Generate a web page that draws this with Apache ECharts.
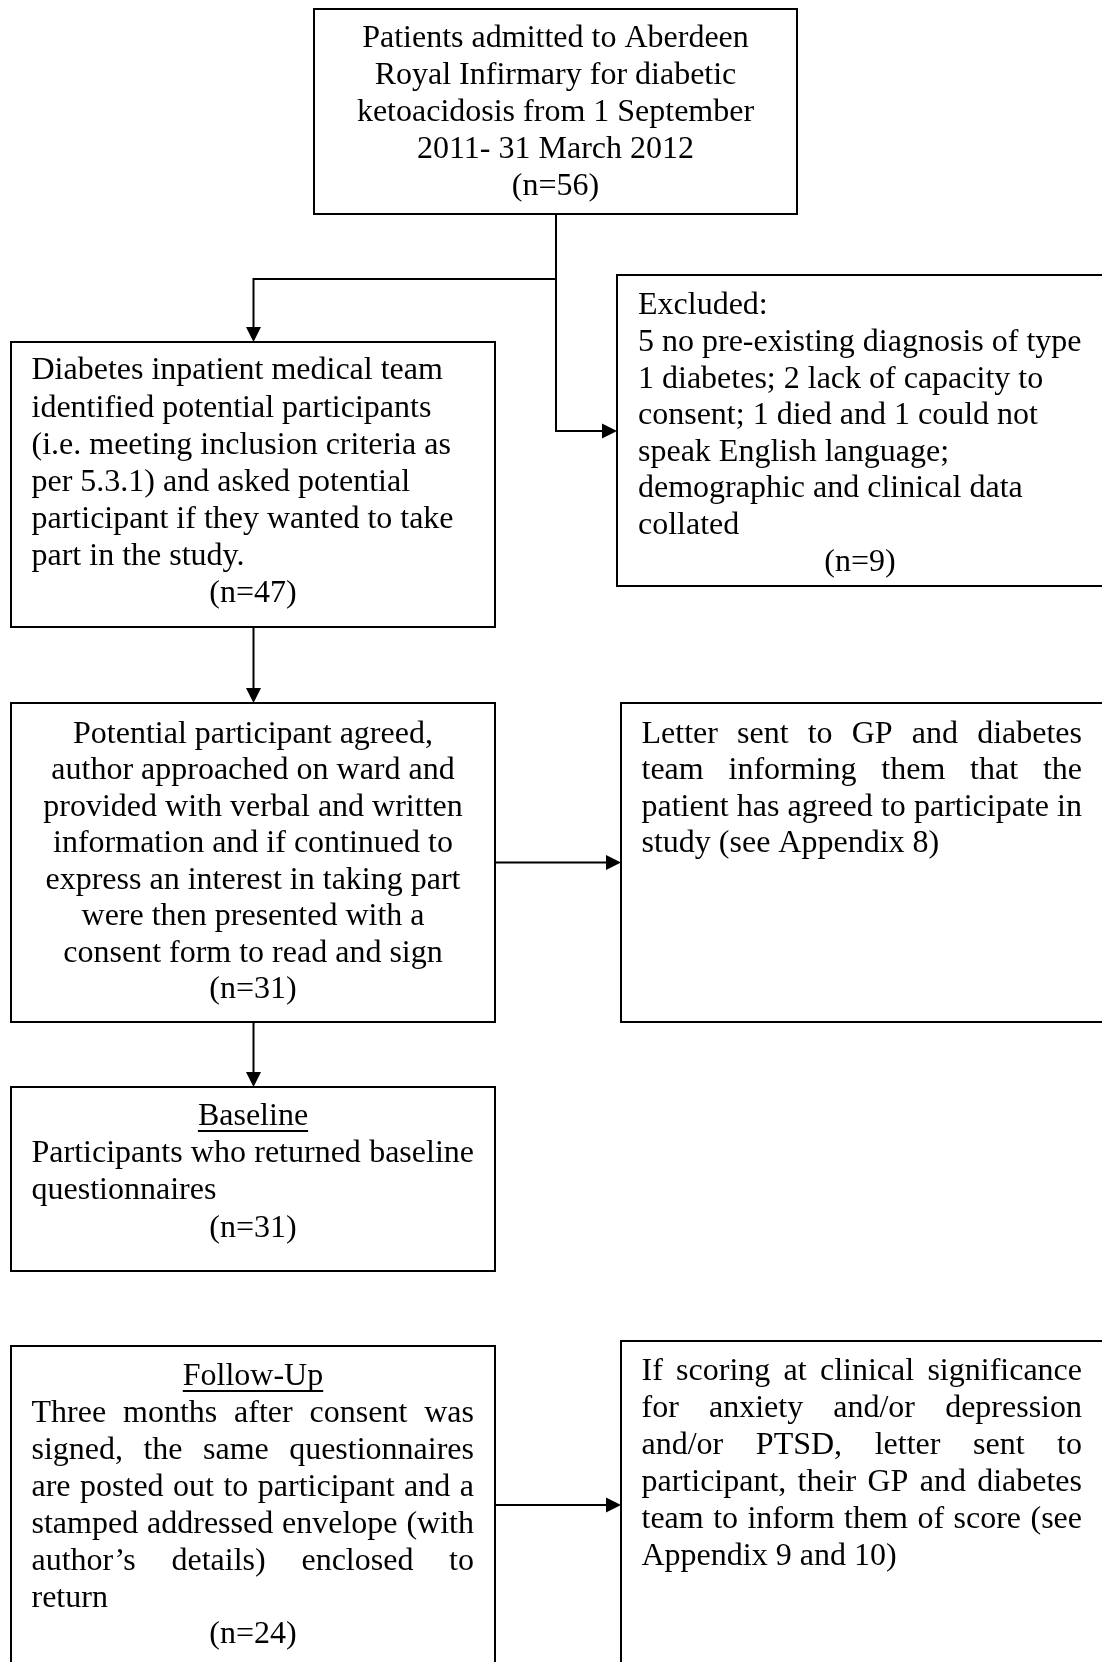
<!DOCTYPE html>
<html>
<head>
<meta charset="utf-8">
<title>Study flow</title>
<script src="https://cdn.jsdelivr.net/npm/echarts@6/dist/echarts.min.js"></script>
<style>
  html, body { margin: 0; padding: 0; background: #fff; }
  #flow { width: 1102px; height: 1662px; }
</style>
</head>
<body>
<div id="flow"></div>
<script>
// ---- data: box texts and counts ----
const topLines = ['Patients admitted to Aberdeen', 'Royal Infirmary for diabetic', 'ketoacidosis from 1 September', '2011- 31 March 2012'];
const identifiedLines = ['Diabetes inpatient medical team', 'identified potential participants', '(i.e. meeting inclusion criteria as', 'per 5.3.1) and asked potential', 'participant if they wanted to take', 'part in the study.'];
const excludedLines = ['Excluded:', '5 no pre-existing diagnosis of type', '1 diabetes; 2 lack of capacity to', 'consent; 1 died and 1 could not', 'speak English language;', 'demographic and clinical data', 'collated'];
const agreedLines = ['Potential participant agreed,', 'author approached on ward and', 'provided with verbal and written', 'information and if continued to', 'express an interest in taking part', 'were then presented with a', 'consent form to read and sign'];
const letterLines = ['Letter sent to GP and diabetes', 'team informing them that the', 'patient has agreed to participate in', 'study (see Appendix 8)'];
const baselineLines = ['Participants who returned baseline', 'questionnaires'];
const followUpLines = ['Three months after consent was', 'signed, the same questionnaires', 'are posted out to participant and a', 'stamped addressed envelope (with', 'author\u2019s details) enclosed to', 'return'];
const scoringLines = ['If scoring at clinical significance', 'for anxiety and/or depression', 'and/or PTSD, letter sent to', 'participant, their GP and diabetes', 'team to inform them of score (see', 'Appendix 9 and 10)'];
const headings = ['Baseline', 'Follow-Up'];
// n for: admitted, identified, excluded, agreed, baseline, follow-up
const sampleSizes = [56, 47, 9, 31, 31, 24];

const FONT = '32px "Liberation Serif", "Times New Roman", serif';
const ctx = document.createElement('canvas').getContext('2d');
ctx.font = FONT;

let els = [];

const textEl = (str, x, y, align) => ({
  type: 'text', x: x, y: y, silent: true,
  style: {text: str, font: FONT, fill: '#000', textAlign: align, align: align,
    textVerticalAlign: 'middle', verticalAlign: 'middle'}
})

const box = (x, y, w, h) => {
  els.push({type: 'rect', shape: {x: x, y: y, width: w, height: h},
    style: {fill: '#fff', stroke: '#000', lineWidth: 2}})
}

// lines of a paragraph; mode: left | center | justify (last line left)
const para = (lines, xl, xr, y0, step, mode) => {
  lines.forEach((line, i) => {
    let y = y0 + i * step
    if (mode === 'center') {
      els.push(textEl(line, (xl + xr) / 2, y, 'center'))
    } else if (mode === 'justify' && i < lines.length - 1) {
      let words = line.split(' ')
      let widths = words.map(w => ctx.measureText(w).width)
      let total = widths.reduce((a, b) => a + b, 0)
      let gap = (xr - xl - total) / (words.length - 1)
      let x = xl
      words.forEach((w, k) => {
        els.push(textEl(w, x, y, 'left'))
        x += widths[k] + gap
      })
    } else {
      els.push(textEl(line, xl, y, 'left'))
    }
  })
}

const heading = (str, cx, y) => {
  els.push(textEl(str, cx, y, 'center'))
  let w = ctx.measureText(str).width
  els.push({type: 'line', shape: {x1: cx - w / 2, y1: y + 14, x2: cx + w / 2, y2: y + 14},
    style: {stroke: '#000', lineWidth: 2}})
}

const nText = (n, cx, y) => els.push(textEl('(n=' + n + ')', cx, y, 'center'))

const connector = (points) => {
  els.push({type: 'polyline', shape: {points: points}, style: {stroke: '#000', lineWidth: 2, fill: null}})
}
const arrowDown = (x, y) => {
  els.push({type: 'polygon', shape: {points: [[x - 7.5, y - 15], [x + 7.5, y - 15], [x, y]]}, style: {fill: '#000'}})
}
const arrowRight = (x, y) => {
  els.push({type: 'polygon', shape: {points: [[x - 15, y - 7.5], [x - 15, y + 7.5], [x, y]]}, style: {fill: '#000'}})
}

// ---- boxes ----
box(314, 9, 483, 205)
para(topLines, 314, 797, 38.5, 37, 'center')
nText(sampleSizes[0], 555.5, 186.5)

box(11, 342, 484, 285)
para(identifiedLines, 31.5, 474, 371, 37.1, 'left')
nText(sampleSizes[1], 253, 593.5)

box(617, 275, 520, 311)
para(excludedLines, 638, 1082, 306, 36.6, 'left')
nText(sampleSizes[2], 860, 562.5)

box(11, 703, 484, 319)
para(agreedLines, 11, 495, 734.2, 36.5, 'center')
nText(sampleSizes[3], 253, 989.8)

box(621, 703, 520, 319)
para(letterLines, 641.5, 1082, 734.2, 36.5, 'justify')

box(11, 1087, 484, 184)
heading(headings[0], 253, 1117)
para(baselineLines, 31.5, 474, 1154, 37, 'justify')
nText(sampleSizes[4], 253, 1228.5)

box(11, 1346, 484, 340)
heading(headings[1], 253, 1377)
para(followUpLines, 31.5, 474, 1414, 36.9, 'justify')
nText(sampleSizes[5], 253, 1635)

box(621, 1341, 520, 345)
para(scoringLines, 641.5, 1082, 1371.4, 37, 'justify')

// ---- connectors ----
connector([[556, 214], [556, 431], [604, 431]])
arrowRight(617, 431)
connector([[556, 279], [253.5, 279], [253.5, 330]])
arrowDown(253.5, 342)
connector([[253.5, 627], [253.5, 690]])
arrowDown(253.5, 703)
connector([[495, 862.5], [608, 862.5]])
arrowRight(621, 862.5)
connector([[253.5, 1022], [253.5, 1075]])
arrowDown(253.5, 1087)
connector([[495, 1505], [608, 1505]])
arrowRight(621, 1505)

let chart = echarts.init(document.getElementById('flow'), null, {renderer: 'canvas'})
chart.setOption({
  backgroundColor: '#fff',
  animation: false,
  graphic: {elements: els}
})
</script>
</body>
</html>
